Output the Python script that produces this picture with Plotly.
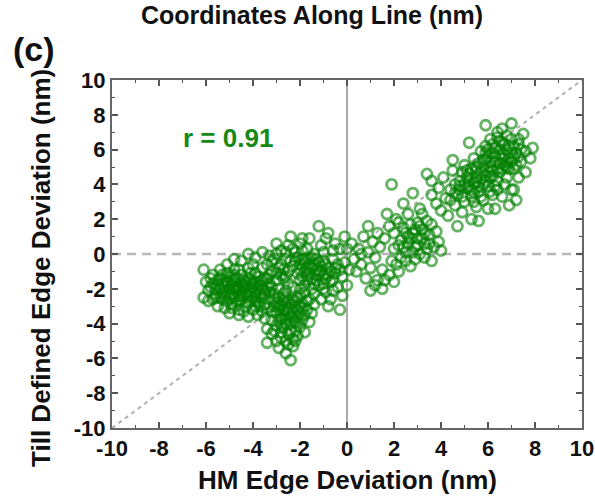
import plotly.graph_objects as go

# HM vs. TII edge deviations (nm), grouped by the clusters seen along the line
left_group = [
    (-5.1, -0.6), (-4.8, -0.3), (-4.5, -0.4), (-4.2, 0.0), (-3.9, -0.2), (-3.6, 0.1), (-3.3, -0.1),
    (-6.1, -0.9), (-5.7, -1.2), (-5.4, -0.9), (-5.1, -1.1), (-4.8, -0.9), (-4.5, -1.2), (-4.2, -0.8),
    (-3.9, -1.1), (-3.6, -0.8), (-3.3, -1.2),
    (-6.0, -1.6), (-5.7, -1.7), (-5.4, -1.4), (-5.1, -1.6), (-4.8, -1.5), (-4.5, -1.7), (-4.2, -1.4),
    (-3.9, -1.6), (-3.6, -1.5), (-3.3, -1.7),
    (-5.9, -2.1), (-5.6, -2.0), (-5.3, -2.2), (-5.0, -2.0), (-4.7, -2.1), (-4.4, -2.0), (-4.1, -2.2),
    (-3.8, -2.0), (-3.5, -2.1),
    (-6.1, -2.5), (-5.7, -2.6), (-5.4, -2.5), (-5.1, -2.7), (-4.8, -2.5), (-4.5, -2.6), (-4.2, -2.4),
    (-3.9, -2.7), (-3.6, -2.5), (-3.3, -2.6),
    (-5.5, -3.0), (-5.2, -3.1), (-4.9, -2.9), (-4.6, -3.2), (-4.3, -3.0), (-4.0, -3.2), (-3.7, -3.0),
    (-3.4, -3.1),
    (-5.0, -3.4), (-4.6, -3.5), (-4.2, -3.6), (-3.8, -3.5), (-3.5, -3.7),
    (-5.2, -1.9), (-4.9, -2.3), (-4.6, -1.9), (-4.3, -2.3), (-4.0, -1.9), (-3.7, -2.3), (-5.0, -1.3),
    (-4.4, -1.5), (-3.8, -1.3), (-4.7, -2.8), (-4.1, -2.7), (-3.5, -2.9),
    (-5.5, -1.8), (-5.3, -2.6), (-4.9, -1.8), (-4.6, -2.4), (-4.3, -1.8), (-4.0, -2.5), (-3.7, -1.8),
    (-5.6, -2.3), (-5.2, -1.5), (-4.5, -2.2), (-3.9, -2.2), (-4.8, -1.2), (-4.1, -1.1), (-5.8, -1.4),
    (-5.5, -1.5), (-5.3, -1.7), (-5.1, -2.3), (-4.9, -1.6), (-4.7, -1.9), (-4.5, -2.4), (-4.3, -1.6),
    (-4.1, -2.0), (-3.9, -2.4), (-3.7, -1.6), (-3.5, -2.3), (-3.4, -1.9), (-5.4, -2.0), (-5.0, -2.5),
    (-4.6, -2.7), (-4.2, -2.8), (-3.8, -2.8), (-5.2, -2.4), (-4.8, -2.0), (-4.4, -1.9), (-4.0, -1.7),
    (-3.6, -2.0), (-5.6, -2.5), (-5.3, -1.2), (-4.7, -1.4), (-4.1, -1.5), (-3.5, -1.4), (-3.2, -1.9),
    (-3.1, -2.3), (-4.9, -3.1), (-4.4, -3.3), (-3.9, -3.0), (-3.6, -3.3), (-4.6, -0.9), (-4.0, -0.6),
    (-3.4, -0.6), (-5.8, -1.9), (-5.9, -2.7),
    (-3.2, -1.0), (-3.0, -1.5), (-2.9, -0.8), (-3.1, -0.3), (-2.8, -1.2), (-3.4, -1.4), (-2.6, -1.3),
    (-3.0, 0.0), (-2.7, -0.9),
]

lower_group = [
    (-3.4, -4.3), (-3.4, -5.1), (-3.2, -3.8), (-3.2, -4.6), (-3.0, -3.4), (-3.0, -4.1), (-3.0, -5.0),
    (-2.9, -5.4), (-2.8, -2.9), (-2.8, -3.7), (-2.8, -4.5), (-2.7, -2.3), (-2.6, -3.2), (-2.6, -4.0),
    (-2.6, -5.0), (-2.6, -5.7), (-2.5, -2.7), (-2.4, -3.6), (-2.4, -4.4), (-2.4, -6.1), (-2.3, -1.9),
    (-2.3, -5.3), (-2.2, -3.0), (-2.2, -3.9), (-2.1, -2.5), (-2.1, -4.7), (-2.0, -3.4), (-2.0, -4.2),
    (-1.9, -2.8), (-1.9, -3.8), (-1.8, -2.2), (-1.8, -4.5), (-1.7, -3.2), (-1.6, -2.6), (-1.6, -3.9),
    (-1.5, -2.0), (-1.5, -3.4), (-1.4, -2.9), (-3.1, -2.6), (-2.9, -2.0), (-2.7, -1.4), (-3.3, -2.2),
    (-2.5, -1.7), (-2.0, -1.5), (-3.0, -1.1), (-2.7, -3.5), (-2.3, -4.9), (-2.5, -4.6),
    (-3.1, -3.0), (-2.9, -3.2), (-2.7, -2.7), (-2.5, -3.1), (-2.3, -2.6), (-2.1, -3.6), (-2.3, -3.3),
    (-2.6, -3.8), (-2.8, -4.1), (-2.2, -4.4), (-1.9, -3.1), (-2.0, -2.4), (-3.2, -3.3), (-2.9, -2.5),
    (-2.9, -3.0), (-2.7, -3.2), (-2.5, -3.4), (-2.3, -3.7), (-2.1, -3.2), (-2.6, -2.5), (-2.4, -2.9),
    (-2.2, -2.7), (-2.0, -3.0), (-1.8, -3.5), (-2.4, -4.0), (-2.7, -4.2), (-2.9, -3.8), (-2.1, -4.0),
    (-2.5, -5.2), (-2.8, -4.8), (-2.2, -5.0), (-3.1, -4.4), (-1.7, -2.7), (-2.6, -2.1), (-3.0, -2.8),
    (-2.0, -2.0), (-1.8, -1.8),
]

upper_left_group = [
    (-3.0, 0.6), (-2.8, 0.2), (-2.6, -0.3), (-2.5, 0.5), (-2.3, -0.7), (-2.2, 0.1), (-2.0, 0.6),
    (-1.9, -0.3), (-1.8, -1.0), (-1.7, 0.3), (-1.6, -0.6), (-1.5, -1.4), (-1.4, 0.0), (-1.3, -0.9),
    (-1.2, 1.6), (-1.2, -1.8), (-1.1, 0.5), (-1.0, -0.4), (-1.0, -1.2), (-0.9, -2.2), (-0.9, 0.9),
    (-0.8, 1.2), (-0.8, -0.8), (-0.7, -1.6), (-0.7, -2.6), (-0.6, 0.2), (-0.6, -0.3), (-0.5, 0.6),
    (-0.5, -1.1), (-0.4, -1.9), (-0.4, -0.6), (-0.3, -3.2), (-0.3, 0.3), (-0.2, -2.4), (-0.2, -1.3),
    (-0.1, 1.0), (-0.1, -0.5), (0.0, 0.3), (0.0, -1.8), (0.1, -0.9), (-2.1, -1.1), (-1.7, -1.5),
    (-1.3, -1.5), (-1.1, -2.6), (-1.4, -2.3), (-0.8, -3.0), (-1.9, 0.9), (-2.4, 1.0), (-1.6, 0.9),
    (-1.0, 0.1), (-0.3, -0.9),
    (-2.0, -0.6), (-1.8, -0.3), (-1.6, -1.1), (-1.4, -0.6), (-1.2, -1.1), (-1.1, -0.7), (-0.9, -1.4),
    (-1.5, -0.2), (-1.9, -1.3), (-1.3, -0.3), (-1.7, -0.8), (-2.2, -0.4), (-0.7, -1.0), (-1.0, -1.7),
    (-2.0, -0.9), (-1.8, -0.5), (-1.6, -0.3), (-1.5, -0.8), (-1.3, -1.2), (-1.1, -1.0), (-0.9, -0.6),
    (-1.2, -0.5), (-1.4, -1.7), (-1.7, -1.2), (-2.1, -0.2), (-2.4, -0.4), (-2.6, 0.1), (-2.3, 0.3),
    (-1.9, 0.2), (-0.8, -1.2), (-0.6, -1.5), (-0.5, -0.8), (-0.6, -2.1), (-1.0, -2.0), (-2.8, -0.6),
    (-2.5, -1.0), (-3.2, -0.4),
]

center_group = [
    (0.2, 0.6), (0.3, -0.3), (0.4, -1.0), (0.5, 0.3), (0.6, -0.6), (0.7, 1.0), (0.8, -1.4),
    (0.9, 1.6), (0.9, 0.1), (1.0, -0.8), (1.1, 0.7), (1.2, -0.2), (1.3, -1.5), (1.3, 1.2),
    (1.4, 0.4), (1.5, -2.0), (1.5, -0.9), (1.6, 0.9), (0.6, 0.0), (1.0, -2.1), (1.2, -1.8),
]

middle_right_group = [
    (1.7, 2.3), (1.8, 1.6), (1.9, 4.0), (1.9, -0.4), (2.0, 1.2), (2.0, 0.3), (2.1, 2.0),
    (2.2, -1.0), (2.3, -0.2), (2.3, 0.8), (2.4, 2.9), (2.4, 1.5), (2.5, 0.1), (2.6, 0.6),
    (2.6, 2.3), (2.7, -0.7), (2.8, 3.5), (2.8, 1.2), (2.9, 0.4), (2.9, -0.3), (3.0, 1.8),
    (3.0, 0.9), (3.1, 0.0), (3.2, 1.4), (3.2, 2.3), (3.3, -0.2), (3.3, 0.6), (3.4, 1.9),
    (3.5, 1.1), (3.6, -0.4), (3.6, 1.7), (3.7, 0.4), (3.8, 1.3), (3.9, 0.7), (4.0, 0.2),
    (2.2, 1.8), (2.5, -0.4), (3.1, 2.6), (2.7, 1.7), (1.6, -1.5), (1.8, -1.2), (2.0, -1.6),
    (2.6, 1.0), (2.9, 1.4), (3.2, 0.9), (3.4, 0.3),
    (2.4, 0.4), (2.7, 0.9), (3.0, 0.5), (2.8, 0.1), (3.3, 1.2), (3.5, 0.6), (2.2, 0.5),
    (2.5, 1.2), (3.1, 1.6), (2.1, -0.6),
]

upper_right_group = [
    (3.4, 4.6), (3.6, 4.2), (3.6, 3.4), (3.8, 2.9), (3.9, 3.8), (4.0, 2.5), (4.1, 4.4),
    (4.2, 3.2), (4.3, 2.2), (4.4, 3.7), (4.5, 4.8), (4.5, 5.4), (4.6, 2.8), (4.7, 1.6),
    (4.7, 3.4), (4.8, 4.2), (4.9, 2.4), (5.0, 3.0), (5.0, 5.1), (5.1, 3.8), (5.2, 4.6),
    (5.2, 6.4), (5.3, 2.0), (5.3, 3.3), (5.4, 4.1), (5.4, 5.5), (5.5, 2.7), (5.5, 4.8),
    (5.6, 1.9), (5.6, 3.6), (5.7, 4.3), (5.7, 5.9), (5.8, 3.1), (5.8, 5.0), (5.9, 7.4),
    (5.9, 4.5), (6.0, 2.6), (6.0, 3.9), (6.0, 5.6), (6.1, 6.6), (6.2, 4.8), (6.2, 3.4),
    (6.3, 5.3), (6.3, 6.1), (6.4, 4.2), (6.4, 7.0), (6.5, 5.7), (6.5, 4.7), (6.6, 3.3),
    (6.6, 6.4), (6.7, 5.1), (6.8, 6.0), (6.8, 4.4), (6.9, 5.5), (7.0, 7.5), (7.0, 6.6),
    (7.0, 3.7), (7.1, 4.9), (7.2, 5.8), (7.3, 6.3), (7.3, 4.4), (7.4, 5.3), (7.5, 6.9),
    (7.6, 5.9), (7.6, 4.7), (7.8, 5.5), (7.9, 6.1), (7.1, 3.7), (4.6, 4.0), (5.1, 4.4),
    (5.6, 5.2), (6.1, 5.0), (6.6, 5.5), (5.9, 6.2), (6.4, 6.7), (7.2, 3.1), (6.9, 2.8),
    (6.3, 2.6),
    (4.8, 3.7), (5.2, 3.9), (5.5, 4.1), (4.9, 4.7), (5.3, 4.9), (5.8, 4.0), (6.1, 4.4),
    (6.5, 5.2), (6.8, 5.3), (7.0, 5.8), (6.7, 6.3), (6.2, 5.8), (6.9, 4.9), (7.3, 5.6),
    (5.9, 5.4), (6.4, 4.9), (7.1, 6.2), (6.3, 3.9), (5.4, 3.5), (4.4, 3.1),
    (5.9, 5.8), (6.1, 5.3), (6.3, 5.6), (6.5, 6.0), (6.7, 5.7), (6.9, 6.2), (6.2, 6.3),
    (6.6, 4.9), (6.0, 4.7), (5.7, 4.7), (5.5, 4.4), (5.2, 4.2), (5.0, 4.0), (4.8, 3.9),
    (5.3, 3.7), (5.6, 3.9), (5.9, 4.2), (6.2, 4.5), (6.8, 5.0), (7.0, 5.3), (7.2, 5.1),
    (7.4, 6.0), (6.5, 6.5), (6.0, 6.0), (5.5, 5.0), (5.1, 4.8), (4.6, 3.5), (4.9, 3.3),
    (5.4, 3.0), (5.7, 3.3), (6.1, 3.6), (6.4, 3.7), (6.7, 4.0), (5.8, 5.4), (7.1, 5.5),
    (7.3, 6.6), (6.8, 6.8), (6.6, 7.2),
]

r_label = "r = 0.91"

groups = [left_group, lower_group, upper_left_group, center_group,
          middle_right_group, upper_right_group]
hm_dev = [p[0] for g in groups for p in g]
till_dev = [p[1] for g in groups for p in g]

x_ticks = list(range(-10, 11, 2))
y_ticks = list(range(-10, 11, 2))

FONT = "Liberation Sans"
INK = "#111111"
GREEN = "rgba(0,128,0,0.6)"

fig = go.Figure()

fig.add_trace(go.Scatter(
    x=hm_dev, y=till_dev, mode="markers",
    marker=dict(symbol="circle-open", size=10, color=GREEN,
                line=dict(width=2.8, color=GREEN)),
    showlegend=False, hoverinfo="skip",
))

# reference lines: y = x diagonal, zero lines
fig.add_shape(type="line", x0=-10, y0=-10, x1=10, y1=10, xref="x", yref="y",
              line=dict(color="#b0b0b0", width=2, dash="4px,4px"), layer="below")
fig.add_shape(type="line", x0=-10, y0=0, x1=10, y1=0, xref="x", yref="y",
              line=dict(color="#b8b8b8", width=2.5, dash="9px,6px"), layer="below")
fig.add_shape(type="line", x0=0, y0=-10, x1=0, y1=10, xref="x", yref="y",
              line=dict(color="#ababab", width=2), layer="below")

axis_common = dict(
    showgrid=False, zeroline=False, showline=True, linecolor="#666666", linewidth=2,
    mirror="ticks", ticks="inside", ticklen=6, tickwidth=1.5, tickcolor="#555555",
    minor=dict(ticks="inside", ticklen=3, tickwidth=1, tickcolor="#555555", dtick=1),
    tickfont=dict(family=FONT, size=22, color=INK, weight="bold"),
)

fig.update_xaxes(range=[-10, 10], tickvals=x_ticks, ticktext=[str(v) for v in x_ticks],
                 **axis_common)
fig.update_yaxes(range=[-10, 10], tickvals=y_ticks, ticktext=[str(v) for v in y_ticks],
                 **axis_common)

text_common = dict(showarrow=False, xanchor="center", yanchor="middle")

fig.add_annotation(text="Coordinates Along Line (nm)", xref="paper", yref="paper",
                   x=0.425, y=1.187, font=dict(family=FONT, size=25, color=INK, weight="bold"),
                   **text_common)
fig.add_annotation(text="(c)", xref="paper", yref="paper", x=-0.166, y=1.089,
                   font=dict(family=FONT, size=34, color=INK, weight="bold"), **text_common)
fig.add_annotation(text="HM Edge Deviation (nm)", xref="paper", yref="paper",
                   x=0.5, y=-0.149, font=dict(family=FONT, size=26, color=INK, weight="bold"),
                   **text_common)
fig.add_annotation(text="Till Defined Edge Deviation (nm)", xref="paper", yref="paper",
                   x=-0.151, y=0.46, textangle=-90,
                   font=dict(family=FONT, size=26, color=INK, weight="bold"), **text_common)
fig.add_annotation(text=r_label, xref="x", yref="y", x=-5.06, y=6.67,
                   font=dict(family=FONT, size=26, color="#148a14", weight="bold"),
                   **text_common)

fig.update_layout(
    width=595, height=496,
    margin=dict(l=112, r=13, t=80, b=68, autoexpand=False),
    paper_bgcolor="white", plot_bgcolor="white",
)

fig.write_html("out.html")
